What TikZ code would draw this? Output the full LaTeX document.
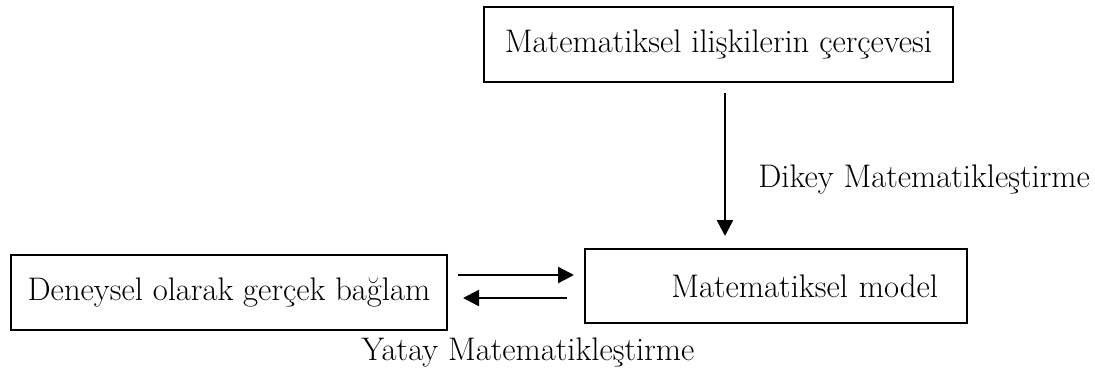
\documentclass[tikz,border=0pt]{standalone}
\usepackage{tikz}
\usetikzlibrary{arrows.meta,positioning,calc}

\begin{document}
\begin{tikzpicture}[
        x=0.75pt, y=-0.75pt,
        box/.style={rectangle, draw=black, line width=1.5pt, minimum height=56pt, inner sep=0pt, font=\fontsize{24.5}{28}\selectfont},
        arrow/.style={-{Triangle[length=12pt,width=12pt]}, line width=1.8pt, black},
        lbl/.style={font=\fontsize{24.5}{28}\selectfont, inner sep=0pt}
    ]
    \useasboundingbox (0,0) rectangle (1095,372);
    \node[box, minimum width=351.75pt] (frame) at (718.5,44.5) {Matematiksel ilişkilerin çerçevesi};
    \node[box, minimum width=327pt] (real) at (229,292.5) {Deneysel olarak gerçek bağlam};
    \node[box, minimum width=286.5pt, minimum height=55.5pt, text width=243pt, align=right, inner xsep=21.75pt] (model) at (776,286) {Matematiksel model};
    \draw[arrow, shorten <=7.5pt, shorten >=9pt] (frame.south -| 725,0) -- (model.north -| 725,0);
    \draw[arrow, shorten <=7.5pt, shorten >=7.5pt] (real.east |- 0,275) -- (model.west |- 0,275);
    \draw[arrow, shorten <=12.75pt, shorten >=11.25pt] (model.west |- 0,298) -- (real.east |- 0,298);
    \node[lbl, anchor=west] (dikey) at (758,179) {Dikey Matematikleştirme};
    \node[lbl] (yatay) at (528,352) {Yatay Matematikleştirme};
\end{tikzpicture}
\end{document}
